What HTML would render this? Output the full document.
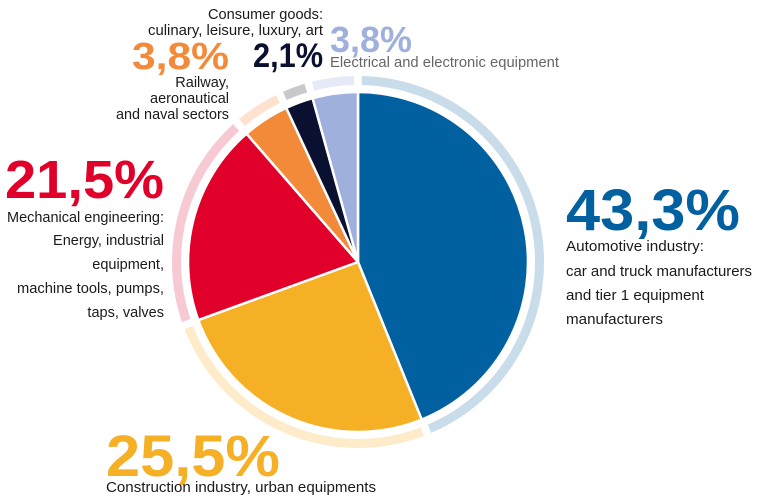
<!DOCTYPE html>
<html><head><meta charset="utf-8"><style>html,body{margin:0;padding:0;background:#fff}svg{display:block}text{font-family:"Liberation Sans",sans-serif}</style></head>
<body>
<svg width="770" height="498" viewBox="0 0 770 498" xmlns="http://www.w3.org/2000/svg">
<g fill="none" stroke-width="9">
<path d="M361.8,80.5 A181.5,181.5 0 0 1 429.5,428.8" stroke="#c9dcea"/>
<path d="M422.4,431.7 A181.5,181.5 0 0 1 188.8,327.6" stroke="#fdebc9"/>
<path d="M186.2,320.5 A181.5,181.5 0 0 1 236.1,127.5" stroke="#f7c9d3"/>
<path d="M241.8,122.6 A181.5,181.5 0 0 1 277.9,99.1" stroke="#fde3cf"/>
<path d="M284.8,95.9 A181.5,181.5 0 0 1 305.8,88.1" stroke="#c8c8cc"/>
<path d="M313.2,86.1 A181.5,181.5 0 0 1 354.2,80.5" stroke="#e6eaf6"/>
</g>
<g stroke="#fff" stroke-width="2.5" stroke-linejoin="round">
<path d="M358,262 L358,92 A170,170 0 0 1 421.7,419.6 Z" fill="#0060a0"/>
<path d="M358,262 L421.7,419.6 A170,170 0 0 1 198.3,320.1 Z" fill="#f5b025"/>
<path d="M358,262 L198.3,320.1 A170,170 0 0 1 246.5,133.7 Z" fill="#e0002a"/>
<path d="M358,262 L246.5,133.7 A170,170 0 0 1 286.2,107.9 Z" fill="#f28a3a"/>
<path d="M358,262 L286.2,107.9 A170,170 0 0 1 312.6,98.2 Z" fill="#0a1030"/>
<path d="M358,262 L312.6,98.2 A170,170 0 0 1 358,92 Z" fill="#9fb0dc"/>
</g>
<g font-weight="bold">
<text x="566" y="230" font-size="58" fill="#0060a0" textLength="174" lengthAdjust="spacingAndGlyphs">43,3%</text>
<text x="5" y="198" font-size="54" fill="#e0002a" textLength="159" lengthAdjust="spacingAndGlyphs">21,5%</text>
<text x="106" y="476" font-size="58" fill="#f5b025" textLength="174" lengthAdjust="spacingAndGlyphs">25,5%</text>
<text x="132" y="69" font-size="38" fill="#f28a3a" textLength="97" lengthAdjust="spacingAndGlyphs">3,8%</text>
<text x="253" y="67" font-size="34" fill="#0a1030" textLength="70" lengthAdjust="spacingAndGlyphs">2,1%</text>
<text x="330" y="52" font-size="36" fill="#9fb0dc" textLength="82" lengthAdjust="spacingAndGlyphs">3,8%</text>
</g>
<g font-size="14.5" fill="#1a1a1a">
<text x="566" y="251" textLength="138" lengthAdjust="spacingAndGlyphs">Automotive industry:</text>
<text x="566" y="276" textLength="186" lengthAdjust="spacingAndGlyphs">car and truck manufacturers</text>
<text x="566" y="300" textLength="138" lengthAdjust="spacingAndGlyphs">and tier 1 equipment</text>
<text x="566" y="324" textLength="97" lengthAdjust="spacingAndGlyphs">manufacturers</text>
<g text-anchor="end">
<text x="164" y="222" textLength="157" lengthAdjust="spacingAndGlyphs">Mechanical engineering:</text>
<text x="164" y="245">Energy, industrial</text>
<text x="164" y="269">equipment,</text>
<text x="164" y="293" textLength="147" lengthAdjust="spacingAndGlyphs">machine tools, pumps,</text>
<text x="164" y="317">taps, valves</text>
<text x="229" y="87">Railway,</text>
<text x="229" y="103">aeronautical</text>
<text x="229" y="119" textLength="113" lengthAdjust="spacingAndGlyphs">and naval sectors</text>
<text x="323" y="19" textLength="115" lengthAdjust="spacingAndGlyphs">Consumer goods:</text>
<text x="323" y="35" textLength="175" lengthAdjust="spacingAndGlyphs">culinary, leisure, luxury, art</text>
</g>
<text x="106" y="492" textLength="270" lengthAdjust="spacingAndGlyphs">Construction industry, urban equipments</text>
<text x="330" y="67" fill="#666" textLength="229" lengthAdjust="spacingAndGlyphs">Electrical and electronic equipment</text>
</g>
</svg>
</body></html>
